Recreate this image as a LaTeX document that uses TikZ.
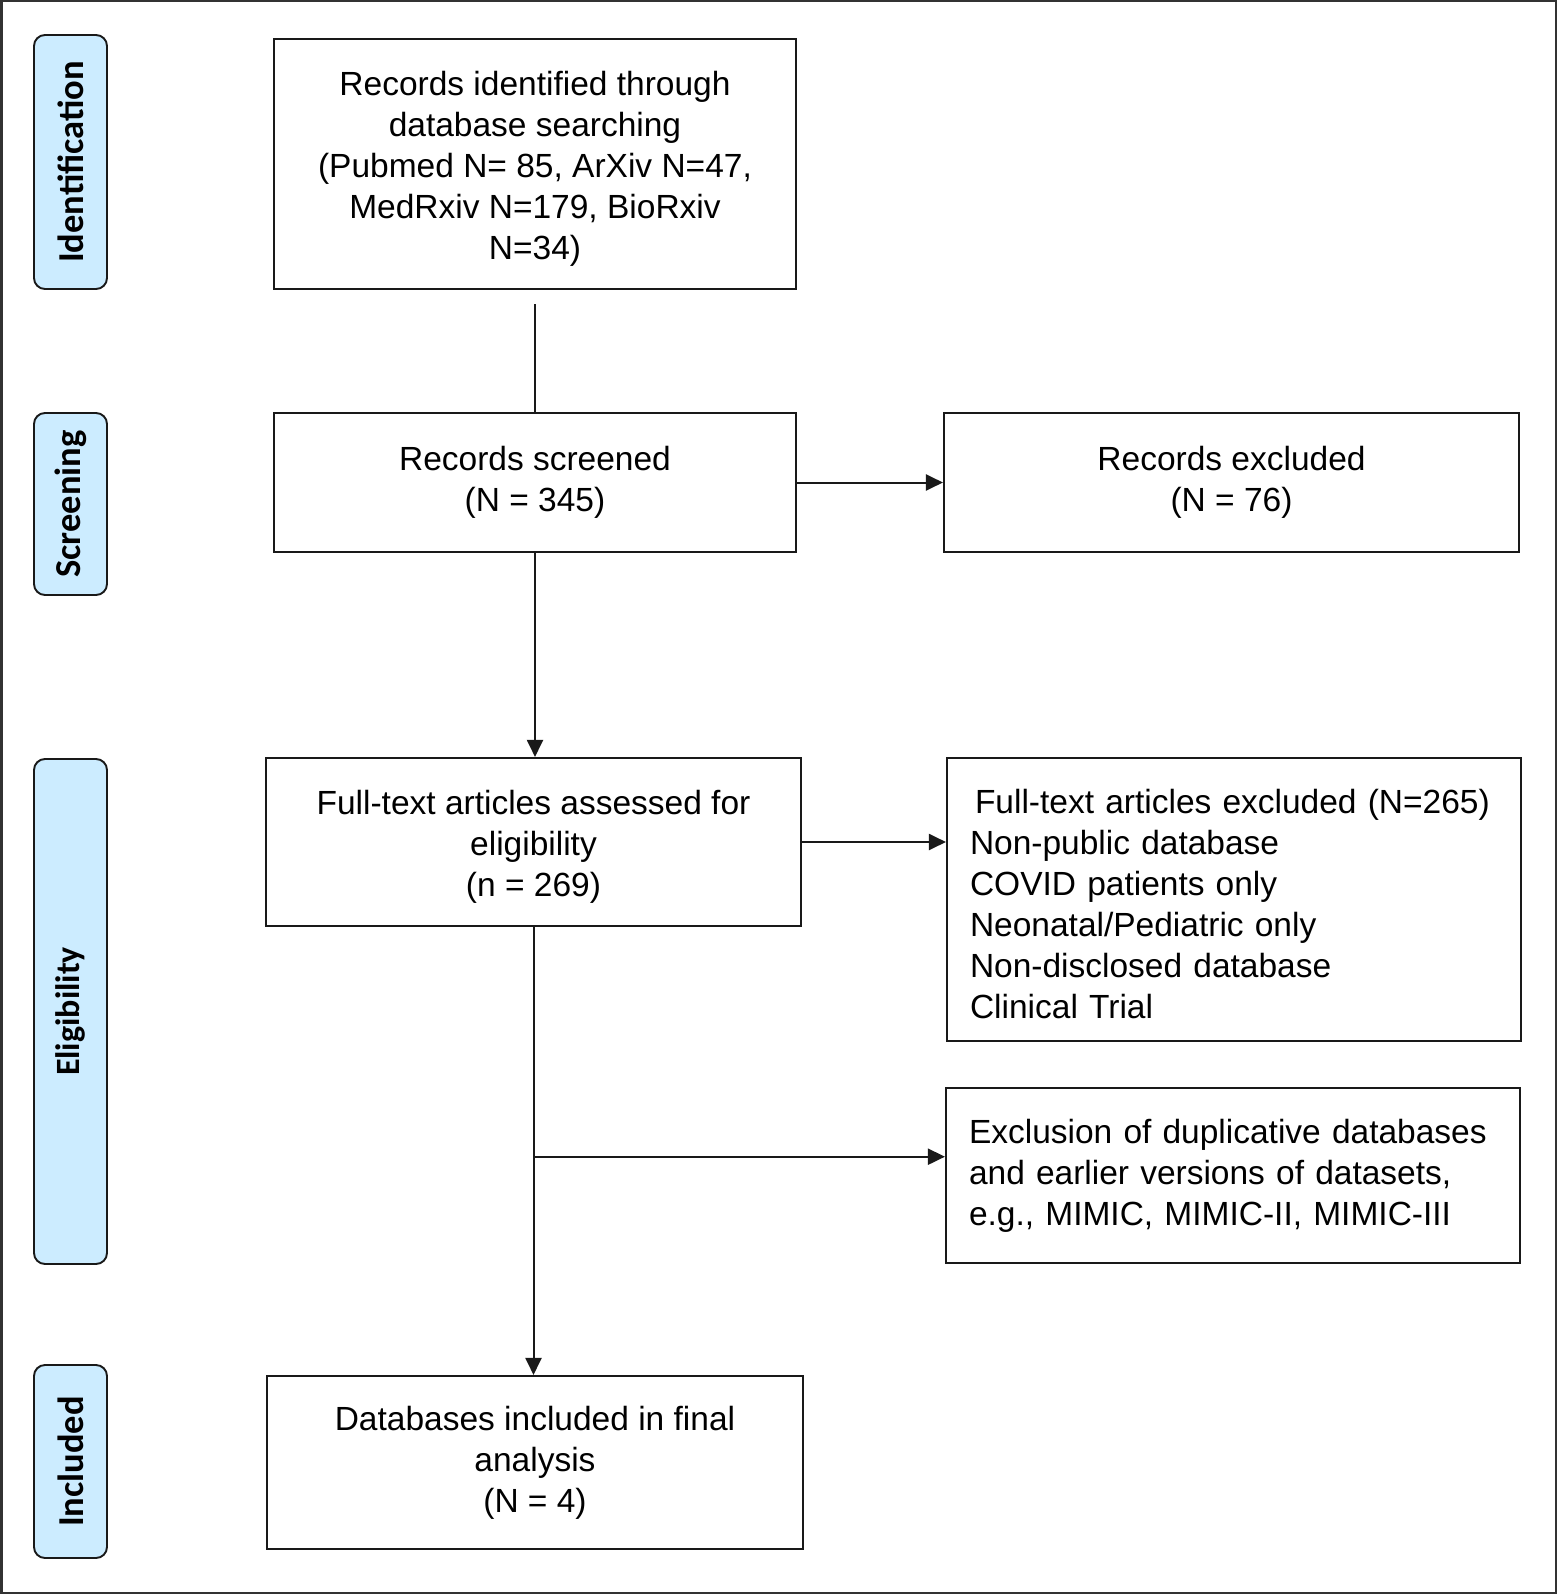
\documentclass[tikz,border=0pt]{standalone}
\usepackage{fontspec}
\setmainfont{Liberation Sans}
\newfontfamily\pillfont{Carlito}
\usetikzlibrary{arrows.meta}
\definecolor{pillblue}{RGB}{204,236,255}
\definecolor{frameg}{RGB}{50,50,50}
\newcommand{\dn}{\rule{0pt}{33pt}}
\tikzset{
  box/.style={draw=black!90, line width=2.1pt, rectangle, inner sep=0pt, align=center,
    font=\fontsize{33.5}{41}\selectfont},
  leftbox/.style={box, align=left, inner xsep=23pt},
  pill/.style={draw=black!90, fill=pillblue, line width=1.9pt, rounded corners=11pt,
    rotate=90, minimum height=73pt, inner sep=0pt,
    font=\pillfont\bfseries\fontsize{36.5}{40}\selectfont},
  conn/.style={line width=2pt, draw=black!90},
  arr/.style={conn, -{Triangle[length=17pt,width=16pt]}}
}
\begin{document}
\begin{tikzpicture}[x=1pt,y=-1pt]
\useasboundingbox (0,0) rectangle (1557,1594);
\draw[line width=2.5pt, frameg] (1.25,1.25) rectangle (1555.75,1592.75);

% phase pills
\node[pill, minimum width=254pt] (pid) at (70.5,162) {Identification};
\node[pill, minimum width=182pt] (pscr) at (70.5,504) {Screening};
\node[pill, minimum width=505pt, font=\pillfont\bfseries\fontsize{34}{40}\selectfont] (pel) at (70.5,1011.5) {Eligibility};
\node[pill, minimum width=193pt] (pinc) at (70.5,1461.5) {Included};

% boxes
\node[box, minimum width=522pt, minimum height=250pt] (b1) at (535,164)
  {\dn Records identified through\\database searching\\(Pubmed N= 85, ArXiv N=47,\\MedRxiv N=179, BioRxiv\\N=34)};
\node[box, minimum width=522pt, minimum height=139pt] (b2) at (535,482.5)
  {Records screened\\(N = 345)};
\node[box, minimum width=575pt, minimum height=139pt] (b3) at (1231.5,482.5)
  {Records excluded\\(N = 76)};
\node[box, minimum width=535pt, minimum height=168pt] (b4) at (533.5,842)
  {\dn Full-text articles assessed for\\eligibility\\(n = 269)};
\node[leftbox, text width=528pt, minimum height=283pt] (b5) at (1234,899.5)
  {\dn\hspace*{5pt}Full-text articles excluded (N=265)\\Non-public database\\COVID patients only\\Neonatal/Pediatric only\\Non-disclosed database\\Clinical Trial};
\node[leftbox, text width=528pt, minimum height=175pt] (b6) at (1233,1175.5)
  {Exclusion of duplicative databases\\and earlier versions of datasets,\\e.g., MIMIC, MIMIC-II, MIMIC-III};
\node[box, minimum width=536pt, minimum height=173pt] (b7) at (535,1462.5)
  {Databases included in final\\analysis\\(N = 4)};

% connectors
\draw[conn] ([yshift=-14pt]b1.south) -- (b2.north);
\draw[arr] (b2.east) -- (b3.west);
\draw[arr] (b2.south) -- (b2.south |- b4.north);
\draw[arr] (b4.east) -- (b4.east -| b5.west);
\draw[arr] (b4.south) -- (b4.south |- b7.north);
\coordinate (br) at (b4.south |- 0,1156.7);
\draw[arr] (br) -- (br -| b6.west);
\end{tikzpicture}
\end{document}
